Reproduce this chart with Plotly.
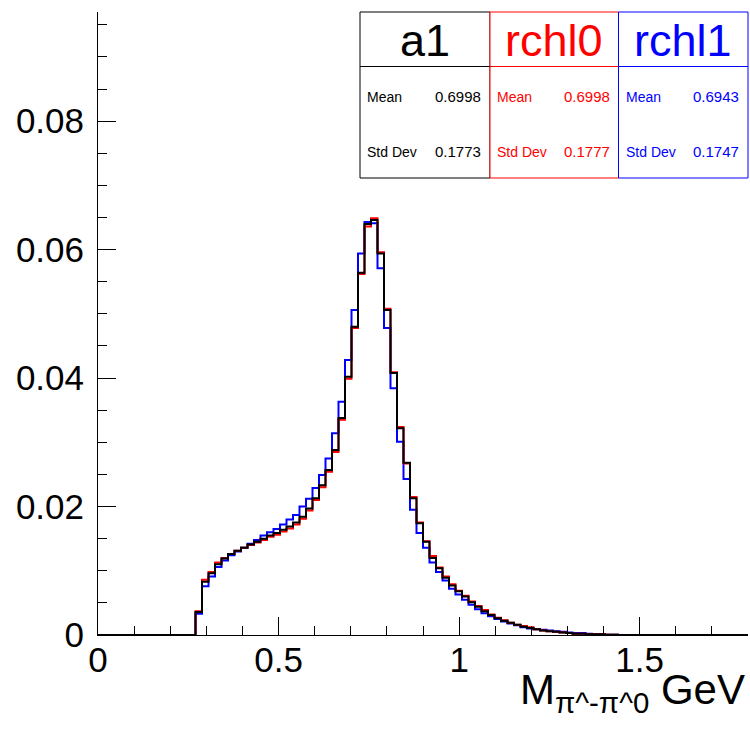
import numpy as np
import plotly.graph_objects as go

# ---------------- data ----------------
x_min, x_max, n_bins = 0.0, 1.8, 100
first_bin = 15  # index of first non-empty bin

a1_vals = [0.0036, 0.0083, 0.0096, 0.0110, 0.0119, 0.0126, 0.0131, 0.0136, 0.0141, 0.0145,
           0.0150, 0.0155, 0.0159, 0.0164, 0.0169, 0.0175, 0.0184, 0.0197, 0.0213, 0.0233,
           0.0257, 0.0288, 0.0338, 0.0402, 0.0480, 0.0564, 0.0640, 0.0646, 0.0594, 0.0506,
           0.0408, 0.0322, 0.0268, 0.0213, 0.0174, 0.0145, 0.0120, 0.0104, 0.0089, 0.0077,
           0.0068, 0.0060, 0.0051, 0.0044, 0.0037, 0.0031, 0.0026, 0.0022, 0.0019, 0.0016,
           0.0013, 0.0011, 0.0009, 0.0007, 0.0006, 0.0005, 0.0004, 0.0003, 0.0002, 0.0002,
           0.0001, 0.0001, 0.0001, 0.00005, 0.00003]
rchl0_vals = [0.0037, 0.0086, 0.0098, 0.0113, 0.0120, 0.0126, 0.0131, 0.0136, 0.0140, 0.0144,
              0.0148, 0.0153, 0.0156, 0.0161, 0.0166, 0.0172, 0.0181, 0.0194, 0.0210, 0.0230,
              0.0254, 0.0285, 0.0335, 0.0399, 0.0478, 0.0562, 0.0636, 0.0649, 0.0596, 0.0508,
              0.0409, 0.0324, 0.0267, 0.0215, 0.0175, 0.0146, 0.0123, 0.0105, 0.0091, 0.0079,
              0.0069, 0.0061, 0.0052, 0.0045, 0.0039, 0.0032, 0.0027, 0.0023, 0.0019, 0.0016,
              0.0014, 0.0012, 0.0009, 0.0007, 0.0006, 0.0005, 0.0004, 0.0003, 0.0002, 0.0002,
              0.0001, 0.0001, 0.0001, 0.00005, 0.00003]
rchl1_vals = [0.0033, 0.0076, 0.0091, 0.0106, 0.0116, 0.0124, 0.0130, 0.0136, 0.0142, 0.0148,
              0.0155, 0.0160, 0.0165, 0.0172, 0.0180, 0.0187, 0.0200, 0.0212, 0.0229, 0.0249,
              0.0275, 0.0314, 0.0363, 0.0428, 0.0506, 0.0594, 0.0643, 0.0641, 0.0571, 0.0478,
              0.0384, 0.0301, 0.0243, 0.0195, 0.0159, 0.0136, 0.0113, 0.0098, 0.0085, 0.0072,
              0.0063, 0.0055, 0.0047, 0.0040, 0.0034, 0.0029, 0.0025, 0.0021, 0.0018, 0.0015,
              0.0012, 0.0010, 0.0009, 0.0008, 0.0007, 0.0006, 0.0005, 0.0004, 0.0003, 0.0003,
              0.0002, 0.0001, 0.0001, 0.00005, 0.00003]

names = ["a1", "rchl0", "rchl1"]
means = ["0.6998", "0.6998", "0.6943"]
stds = ["0.1773", "0.1777", "0.1747"]
colors = ["black", "red", "blue"]

edges = np.linspace(x_min, x_max, n_bins + 1)


def full(vals):
    h = np.zeros(n_bins)
    h[first_bin:first_bin + len(vals)] = vals
    return h


hists = {"a1": full(a1_vals), "rchl0": full(rchl0_vals), "rchl1": full(rchl1_vals)}

# ---------------- figure ----------------
W, H = 750, 729
L, R, T, B = 98, 2, 12, 94
pw, ph = W - L - R, H - T - B


def px(x):
    return (x - L) / pw


def py(y):
    return (H - B - y) / ph


fig = go.Figure()
for name, col in [("rchl1", "blue"), ("rchl0", "red"), ("a1", "black")]:
    h = hists[name]
    fig.add_trace(go.Scatter(x=edges, y=np.append(h, h[-1]), mode="lines",
                             line=dict(color=col, width=2, shape="hv"),
                             showlegend=False, hoverinfo="skip"))

font = "Liberation Sans, Arial, Helvetica, sans-serif"
fig.update_layout(width=W, height=H, margin=dict(l=L, r=R, t=T, b=B),
                  paper_bgcolor="white", plot_bgcolor="white", showlegend=False)
fig.update_xaxes(range=[x_min, x_max], showline=True, linecolor="black", linewidth=1,
                 ticks="inside", ticklen=18, tickwidth=1, tickcolor="black",
                 tick0=0, dtick=0.5, showgrid=False, zeroline=False,
                 minor=dict(dtick=0.1, ticks="inside", ticklen=9, tickcolor="black", showgrid=False),
                 tickfont=dict(family=font, size=35, color="black"), ticklabelstandoff=-6)
fig.update_yaxes(range=[0, 0.097], showline=True, linecolor="black", linewidth=1,
                 ticks="inside", ticklen=18, tickwidth=1, tickcolor="black",
                 tick0=0, dtick=0.02, showgrid=False, zeroline=False,
                 minor=dict(dtick=0.005, ticks="inside", ticklen=9, tickcolor="black", showgrid=False),
                 tickfont=dict(family=font, size=35, color="black"), ticklabelstandoff=6)

# ---------------- stat boxes ----------------
box_x = [360, 490, 618.5, 748]
box_top, box_mid, box_bot = 12, 66.5, 178
for i in range(3):
    x0, x1 = box_x[i], box_x[i + 1]
    c = colors[i]
    fig.add_shape(type="rect", xref="paper", yref="paper", x0=px(x0), x1=px(x1),
                  y0=py(box_bot), y1=py(box_top), fillcolor="white",
                  line=dict(color=c, width=1), layer="above")
    fig.add_shape(type="line", xref="paper", yref="paper", x0=px(x0), x1=px(x1),
                  y0=py(box_mid), y1=py(box_mid), line=dict(color=c, width=1), layer="above")
    fig.add_annotation(xref="paper", yref="paper", x=px((x0 + x1) / 2), y=py(40),
                       text=names[i], showarrow=False, xanchor="center", yanchor="middle",
                       font=dict(family=font, size=45, color=c))
    fig.add_annotation(xref="paper", yref="paper", x=px(x0 + 5), y=py(97),
                       text="Mean", showarrow=False, xanchor="left", yanchor="middle",
                       font=dict(family=font, size=14, color=c))
    fig.add_annotation(xref="paper", yref="paper", x=px(x1 - 7), y=py(96),
                       text=means[i], showarrow=False, xanchor="right", yanchor="middle",
                       font=dict(family=font, size=15, color=c))
    fig.add_annotation(xref="paper", yref="paper", x=px(x0 + 5), y=py(152),
                       text="Std Dev", showarrow=False, xanchor="left", yanchor="middle",
                       font=dict(family=font, size=14, color=c))
    fig.add_annotation(xref="paper", yref="paper", x=px(x1 - 7), y=py(151),
                       text=stds[i], showarrow=False, xanchor="right", yanchor="middle",
                       font=dict(family=font, size=15, color=c))

# x-axis title
fig.add_annotation(xref="paper", yref="paper", x=px(747), y=py(692),
                   text="M<sub>π^-π^0</sub>&nbsp;GeV", showarrow=False,
                   xanchor="right", yanchor="middle",
                   font=dict(family=font, size=42, color="black"))

fig.write_html("out.html")
